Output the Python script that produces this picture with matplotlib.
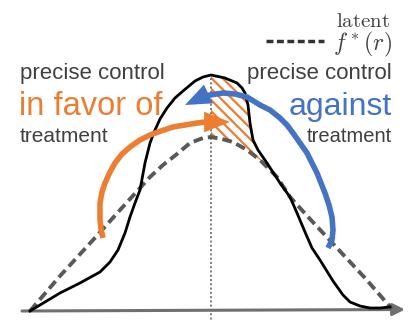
import numpy as np
import matplotlib
matplotlib.use("Agg")
import matplotlib.pyplot as plt
from matplotlib.patches import FancyArrowPatch
from matplotlib.path import Path
from matplotlib.lines import Line2D

plt.rcParams["font.family"] = ["Liberation Sans", "DejaVu Sans"]
plt.rcParams["mathtext.fontset"] = "cm"
plt.rcParams["hatch.linewidth"] = 1.6

ORANGE = "#ED7D31"
BLUE = "#4472C4"
GRAY = "#595959"
TEXT = "#404040"

# observed density (black), pixel space of the sketch
black_x = [30, 45, 60, 80, 100, 110, 118, 125, 130, 135, 140, 145, 150, 155,
           160, 167, 175, 183, 195, 203, 211, 225, 237, 242, 245, 248, 250,
           253, 258, 267, 280, 290, 297, 305, 312, 320, 333, 343, 350, 360,
           370, 380, 390]
black_y = [311, 302, 293, 283, 272, 262, 250, 233, 217, 203, 190, 163, 143, 130,
           119, 108, 98, 91, 81, 77, 75, 78, 83, 88, 93, 105, 123,
           140, 150, 163, 183, 197, 213, 232, 248, 260, 281, 295, 302, 306,
           308, 308, 307]

# latent f*(r) (dashed)
latent_x = [30, 60, 93, 120, 140, 150, 163, 177, 190, 203, 211, 222, 233, 247,
            260, 277, 290, 310, 337, 365, 392]
latent_y = [311, 276, 240, 210, 188, 177, 165, 154, 143, 138, 137, 139, 142, 150,
            160, 177, 197, 219, 248, 278, 309]

cutoff = 211
overlap_end = 290

# manipulation arrows
favor_x = [103, 101, 100, 100, 102, 105, 110, 115, 122, 130, 140, 150, 161,
           173, 185, 197, 205, 213, 230]
favor_y = [238, 229, 220, 203, 192, 183, 172, 163, 154, 147, 140, 135, 131,
           127, 125, 123, 122, 122, 122]
against_x = [328, 332, 333, 332, 329, 325, 321, 317, 312, 307, 300, 293, 287,
             280, 270, 260, 247, 235, 223, 210, 202, 185]
against_y = [248, 240, 230, 217, 205, 193, 183, 173, 163, 153, 143, 133, 125,
             118, 110, 105, 97, 94, 93, 95, 97, 105]

axis_x = [22, 405]
axis_y = [311, 309.5]

fig = plt.figure(figsize=(4.13, 3.2), dpi=100)
ax = fig.add_axes([0, 0, 1, 1])
ax.set_xlim(0, 413)
ax.set_ylim(320, 0)
ax.axis("off")

bx = np.array(black_x)
by = np.array(black_y)
lx = np.array(latent_x)
ly = np.array(latent_y)

# hatched region: right of cutoff, between black (top) and latent (bottom)
mb = (bx >= cutoff) & (bx <= overlap_end)
ml = (lx >= cutoff) & (lx <= overlap_end)
poly_x = np.concatenate([bx[mb], lx[ml][::-1]])
poly_y = np.concatenate([by[mb], ly[ml][::-1]])
ax.fill(poly_x, poly_y, facecolor="none", edgecolor=ORANGE, hatch="\\\\\\",
        linewidth=0, zorder=1)

ax.plot([cutoff, cutoff], [78, 320], color="#7a7a7a", lw=1.4,
        linestyle=(0, (1, 1.2)), zorder=2)

ax.plot(lx, ly, color=GRAY, lw=2.8, dashes=(2.5, 1.3), zorder=3)
ax.plot(bx, by, color="black", lw=2.0, zorder=4, solid_joinstyle="round")

ax.annotate("", xy=(axis_x[1], axis_y[1]), xytext=(axis_x[0], axis_y[0]),
            arrowprops=dict(arrowstyle="-|>,head_length=0.6,head_width=0.3",
                            color="#707070", lw=2.2, mutation_scale=12,
                            shrinkA=0, shrinkB=0), zorder=2)

for xs, ys, col in [(favor_x, favor_y, ORANGE), (against_x, against_y, BLUE)]:
    arr = FancyArrowPatch(path=Path(np.column_stack([xs, ys])),
                          arrowstyle="-|>,head_length=0.75,head_width=0.3",
                          mutation_scale=15, color=col, lw=4,
                          joinstyle="miter", capstyle="butt", zorder=5)
    ax.add_patch(arr)

# texts
ax.text(20, 79, "precise control", fontsize=16, color=TEXT, va="baseline")
ax.text(19, 115, "in favor of", fontsize=23.5, color=ORANGE, va="baseline")
ax.text(20, 142, "treatment", fontsize=15, color=TEXT, va="baseline")

ax.text(392, 79, "precise control", fontsize=16, color=TEXT, va="baseline", ha="right")
ax.text(392, 115, "against", fontsize=23, color=BLUE, va="baseline", ha="right")
ax.text(392, 142, "treatment", fontsize=14.5, color=TEXT, va="baseline", ha="right")

ax.text(390, 27, r"$\mathrm{latent}$", fontsize=15, color=TEXT, va="baseline", ha="right")
ax.text(392, 50, r"$f^*(r)$", fontsize=17, color=TEXT, va="baseline", ha="right")
key = Line2D([0], [0], color="#333333", lw=2.5, dashes=(2.0, 1.0))
ax.legend(handles=[key], labels=[""], loc="center right", frameon=False,
          bbox_to_anchor=(324, 43), bbox_transform=ax.transData,
          handlelength=2.6, handletextpad=0, borderpad=0, borderaxespad=0,
          fontsize=16)

fig.savefig("out.png", dpi=100)
